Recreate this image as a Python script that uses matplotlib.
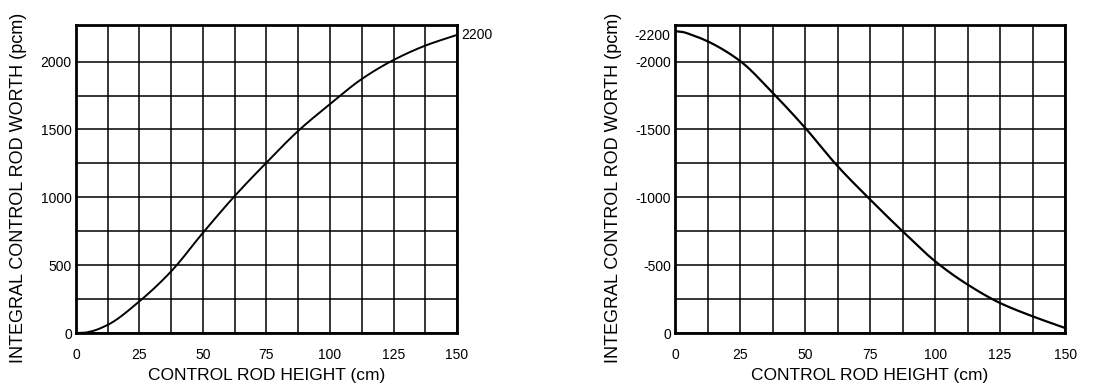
import numpy as np
import matplotlib
matplotlib.use("Agg")
import matplotlib.pyplot as plt
import matplotlib.transforms as mtransforms

plt.rcParams['font.family'] = ['Liberation Sans', 'DejaVu Sans']
plt.rcParams['axes.unicode_minus'] = False

# rod height (cm)
height = [0, 3, 6, 12.5, 25, 37.5, 50, 62.5, 75, 87.5, 100, 112.5, 125, 137.5, 150]
# withdrawal curve (pcm)
worth_up = [0, 2, 12, 60, 234, 455, 739, 1010, 1256, 1490, 1687, 1872, 2012, 2118, 2197]
# insertion curve (pcm), negative
worth_down = [-2225, -2218, -2200, -2150, -2005, -1771, -1513, -1230, -984, -750,
              -529, -357, -221, -123, -37]


def pchip(x, y, n=400):
    # monotone cubic interpolation (Fritsch-Carlson)
    x = np.asarray(x, float)
    y = np.asarray(y, float)
    h = np.diff(x)
    d = np.diff(y) / h
    m = np.zeros_like(y)
    for i in range(1, len(y) - 1):
        if d[i - 1] * d[i] > 0:
            w1 = 2 * h[i] + h[i - 1]
            w2 = h[i] + 2 * h[i - 1]
            m[i] = (w1 + w2) / (w1 / d[i - 1] + w2 / d[i])
    m[0] = d[0]
    m[-1] = d[-1]
    xs = np.linspace(x[0], x[-1], n)
    idx = np.clip(np.searchsorted(x, xs) - 1, 0, len(h) - 1)
    t = (xs - x[idx]) / h[idx]
    h00 = 2 * t**3 - 3 * t**2 + 1
    h10 = t**3 - 2 * t**2 + t
    h01 = -2 * t**3 + 3 * t**2
    h11 = t**3 - t**2
    ys = h00 * y[idx] + h10 * h[idx] * m[idx] + h01 * y[idx + 1] + h11 * h[idx] * m[idx + 1]
    return xs, ys


def style(ax):
    ax.set_xlim(0, 150)
    xt = np.arange(0, 150.1, 12.5)
    ax.set_xticks(xt)
    ax.set_xticklabels([str(int(v)) if v % 25 == 0 else '' for v in xt])
    ax.grid(True, which='major', color='black', lw=1.1)
    ax.tick_params(which='both', length=0, labelsize=10)
    ax.tick_params(axis='x', pad=11)
    ax.tick_params(axis='y', pad=3)
    for s in ax.spines.values():
        s.set_linewidth(2)
    ax.set_xlabel('CONTROL ROD HEIGHT (cm)', fontsize=12.5, labelpad=4)
    ax.set_ylabel('INTEGRAL CONTROL ROD WORTH (pcm)', fontsize=13)


fig = plt.figure(figsize=(11.09, 3.92), dpi=100)
ax1 = fig.add_axes([0.0685, 0.1505, 0.3436, 0.7857])
ax2 = fig.add_axes([0.6087, 0.1505, 0.3517, 0.7857])

# left panel
xs, ys = pchip(height, worth_up)
ax1.plot(xs, ys, color='black', lw=1.4)
ax1.set_ylim(0, 2270)
yt = np.arange(0, 2001, 250)
ax1.set_yticks(yt)
ax1.set_yticklabels([str(int(v)) if v % 500 == 0 else '' for v in yt])
style(ax1)
ax1.yaxis.set_label_coords(-0.128, 0.47)
tr = mtransforms.blended_transform_factory(ax1.transAxes, ax1.transData)
ax1.text(1.012, 2200, '2200', transform=tr, fontsize=10, va='center', ha='left')

# right panel
xs, ys = pchip(height, worth_down)
ax2.plot(xs, ys, color='black', lw=1.6)
ax2.set_ylim(0, -2270)
yt = -np.arange(0, 2001, 250)
ax2.set_yticks(yt)
ax2.set_yticklabels([str(int(v)) if v % 500 == 0 else '' for v in yt])
ax2.set_yticks([-2200], labels=['-2200'], minor=True)
style(ax2)
ax2.yaxis.set_label_coords(-0.137, 0.47)

fig.savefig('out.png', dpi=100)
